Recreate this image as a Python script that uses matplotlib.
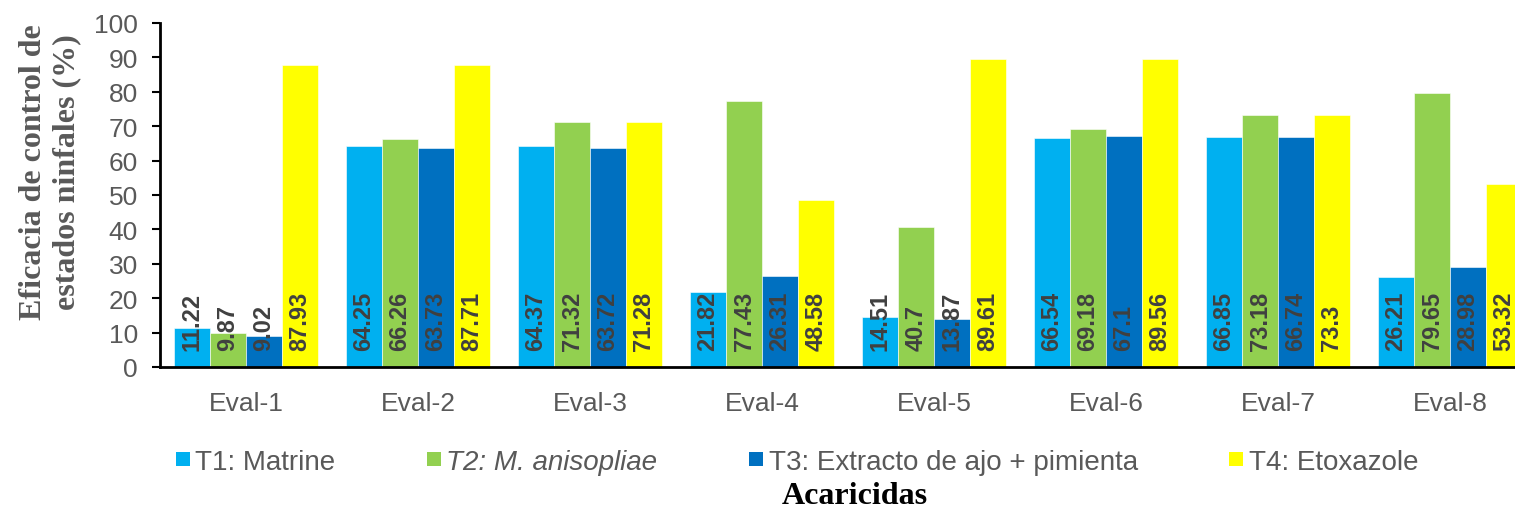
import matplotlib
matplotlib.use("Agg")
import matplotlib.pyplot as plt
import numpy as np
from matplotlib.patches import Patch

categories = ["Eval-1", "Eval-2", "Eval-3", "Eval-4", "Eval-5", "Eval-6", "Eval-7", "Eval-8"]
series_names = ["T1: Matrine", "T2: M. anisopliae", "T3: Extracto de ajo + pimienta", "T4: Etoxazole"]
t1_matrine = [11.22, 64.25, 64.37, 21.82, 14.51, 66.54, 66.85, 26.21]
t2_anisopliae = [9.87, 66.26, 71.32, 77.43, 40.7, 69.18, 73.18, 79.65]
t3_ajo_pimienta = [9.02, 63.73, 63.72, 26.31, 13.87, 67.1, 66.74, 28.98]
t4_etoxazole = [87.93, 87.71, 71.28, 48.58, 89.61, 89.56, 73.3, 53.32]
y_ticks = [0, 10, 20, 30, 40, 50, 60, 70, 80, 90, 100]

series = [t1_matrine, t2_anisopliae, t3_ajo_pimienta, t4_etoxazole]
colors = ["#00B0F0", "#92D050", "#0070C0", "#FFFF00"]

W, H = 1515, 510
fig = plt.figure(figsize=(W / 100, H / 100), dpi=100)
# plot area: left edge at x=160 px, y from 24 to 368 px; the last group runs past the right edge
ax = fig.add_axes([160 / W, (H - 368) / H, 1376 / W, 344 / H])

x = np.arange(len(categories))
bw = 0.2093
label_font = "Liberation Sans"
for i, (vals, c) in enumerate(zip(series, colors)):
    pos = x + (i - 1.5) * bw
    ax.bar(pos, vals, width=bw, color=c, edgecolor="white", linewidth=0.4, zorder=2)
    for p, v in zip(pos, vals):
        ax.text(p, 4.9, f"{v:g}", rotation=90, ha="center", va="bottom",
                fontsize=17, fontweight="bold", color="#404040",
                family=label_font, zorder=3)

ax.set_xlim(-0.5, len(categories) - 0.5)
ax.set_ylim(0, 100)
ax.set_yticks(y_ticks)
ax.set_xticks(x)
ax.set_xticklabels(categories)

for s in ["top", "right"]:
    ax.spines[s].set_visible(False)
for s in ["left", "bottom"]:
    ax.spines[s].set_color("black")
    ax.spines[s].set_linewidth(2)

ax.tick_params(axis="y", direction="out", length=6, width=1.5, color="black",
               pad=10, labelsize=19, labelcolor="#595959")
ax.tick_params(axis="x", length=0, pad=17, labelsize=19, labelcolor="#595959")
for lab in ax.get_xticklabels() + ax.get_yticklabels():
    lab.set_family(label_font)

# axis titles
fig.text(50 / W, 1 - 172 / H, "Eficacia de control de\nestados ninfales (%)",
         rotation=90, ha="center", va="center", fontsize=23, fontweight="bold",
         color="#595959", family="Liberation Serif", linespacing=1.2)
fig.text(855 / W, 1 - 497 / H, "Acaricidas", ha="center", va="center",
         fontsize=23, fontweight="bold", color="black", family="Liberation Serif")

handles = [Patch(facecolor=c, edgecolor="none") for c in colors]
leg = fig.legend(handles, series_names, loc="center", ncol=4,
                 bbox_to_anchor=(797 / W, 1 - 463 / H), frameon=False,
                 prop={"family": label_font, "size": 20},
                 handlelength=0.5, handleheight=0.4, handletextpad=0.2,
                 columnspacing=3.3, borderpad=0, borderaxespad=0)
for t in leg.get_texts():
    t.set_color("#595959")
leg.get_texts()[1].set_style("italic")

fig.savefig("out.png", dpi=100)
